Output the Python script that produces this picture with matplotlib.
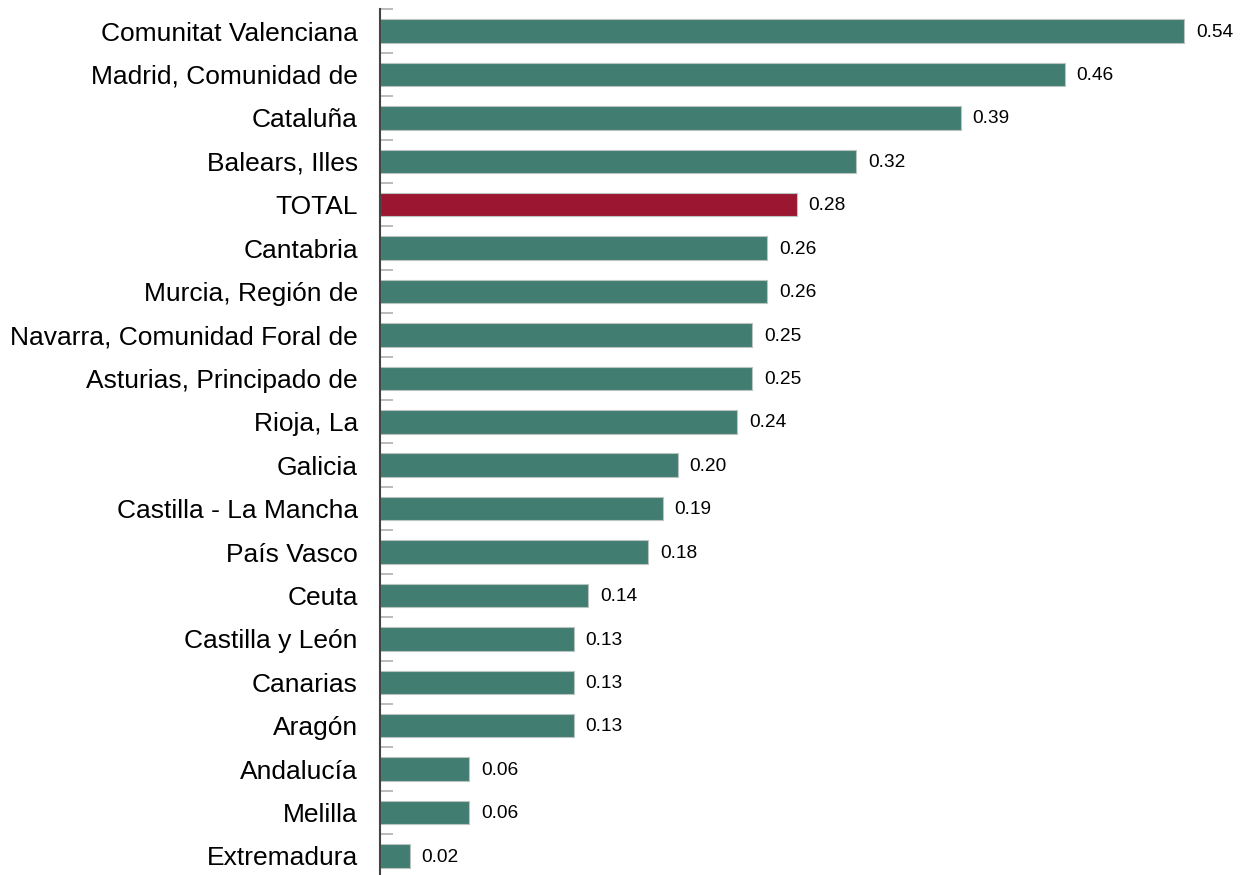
import matplotlib
matplotlib.use("Agg")
import matplotlib.pyplot as plt
import numpy as np

categories = ["Comunitat Valenciana", "Madrid, Comunidad de", "Cataluña", "Balears, Illes",
              "TOTAL", "Cantabria", "Murcia, Región de", "Navarra, Comunidad Foral de",
              "Asturias, Principado de", "Rioja, La", "Galicia", "Castilla - La Mancha",
              "País Vasco", "Ceuta", "Castilla y León", "Canarias", "Aragón",
              "Andalucía", "Melilla", "Extremadura"]
values = [0.54, 0.46, 0.39, 0.32, 0.28, 0.26, 0.26, 0.25, 0.25, 0.24, 0.20, 0.19,
          0.18, 0.14, 0.13, 0.13, 0.13, 0.06, 0.06, 0.02]
value_labels = ["0.54", "0.46", "0.39", "0.32", "0.28", "0.26", "0.26", "0.25", "0.25", "0.24",
                "0.20", "0.19", "0.18", "0.14", "0.13", "0.13", "0.13", "0.06", "0.06", "0.02"]

plt.rcParams['font.family'] = ['Liberation Sans', 'DejaVu Sans']

GREEN = "#427d71"
RED = "#9b1631"

fig = plt.figure(figsize=(12.4, 8.75), dpi=100)
ax = fig.add_axes([380/1240, 1 - 877.7/875, 860/1240, (877.7 - 9.3)/875])

n = len(categories)
y = np.arange(n)
colors = [RED if c == "TOTAL" else GREEN for c in categories]
bars = ax.barh(y, values, height=0.54, color=colors, edgecolor="#b9c4c1", linewidth=0.8)

ax.set_ylim(n - 0.5, -0.5)
ax.set_xlim(0, 860 / (804 / 0.54))

ax.set_yticks(y)
ax.set_yticklabels(categories, fontsize=19)
ax.tick_params(axis='y', which='major', length=0, pad=16)
ax.set_yticks(np.arange(n) - 0.5, minor=True)
ax.tick_params(axis='y', which='minor', direction='in', length=9, width=1.2, color="#b0b0b0")
ax.set_xticks([])

for s in ["top", "right", "bottom"]:
    ax.spines[s].set_visible(False)
ax.spines["left"].set_color("#444444")
ax.spines["left"].set_linewidth(1.5)

for b, lab in zip(bars, value_labels):
    ax.annotate(lab, (b.get_width(), b.get_y() + b.get_height() / 2),
                xytext=(8.5, -0.8), textcoords="offset points",
                va="center", ha="left", fontsize=13.8, color="black")

fig.savefig("out.png", dpi=100)
